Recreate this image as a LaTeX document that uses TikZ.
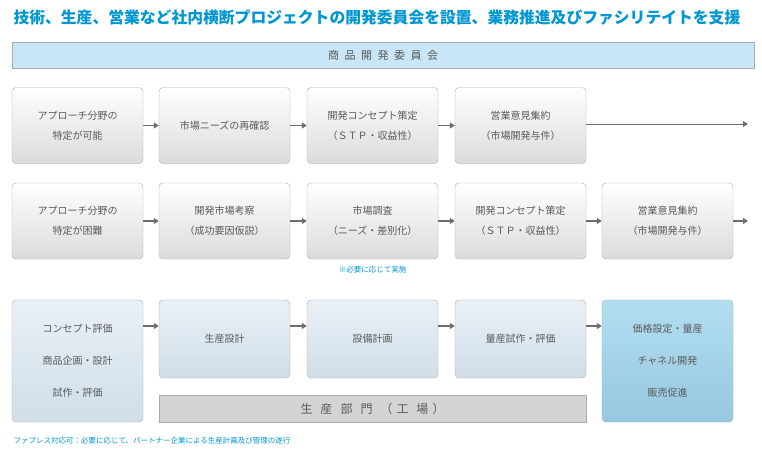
\documentclass[tikz,border=0pt]{standalone}
\usepackage{fontspec}
\setmainfont{Noto Sans CJK JP}
\usetikzlibrary{arrows.meta,positioning}
\definecolor{titleblue}{RGB}{0,150,210}
\definecolor{bannerblue}{RGB}{200,230,248}
\definecolor{selltop}{RGB}{178,222,240}
\definecolor{sellbottom}{RGB}{150,200,225}
\definecolor{prodtop}{RGB}{234,240,246}
\definecolor{prodbottom}{RGB}{208,222,232}
\definecolor{boxline}{RGB}{170,170,170}
\definecolor{txtgray}{RGB}{90,90,90}
\definecolor{arrowgray}{RGB}{110,110,110}
\begin{document}
\begin{tikzpicture}
[x=1pt, y=-1pt,
 every node/.style = {font=\fontsize{10}{20}\selectfont, text=txtgray, align=center},
 stepbox/.style = {draw=boxline, rounded corners=4pt, minimum width=131pt, minimum height=76pt,
                   top color=white, bottom color=black!14},
 prodbox/.style = {stepbox, top color=prodtop, bottom color=prodbottom},
 flow/.style = {-{Triangle[length=5pt,width=6pt]}, draw=arrowgray, line width=1.2pt}]
\useasboundingbox (0,0) rectangle (762,471);
\node[anchor=west, text=titleblue, font=\fontsize{15.8}{18}\selectfont\bfseries] (title) at (10,18)
  {技術、生産、営業など社内横断プロジェクトの開発委員会を設置、業務推進及びファシリテイトを支援};
\node[draw=boxline, fill=bannerblue, minimum width=742pt, minimum height=26pt, font=\fontsize{11}{13}\selectfont] (iinkai) at (383,55)
  {商\,\,\,品\,\,\,開\,\,\,発\,\,\,委\,\,\,員\,\,\,会};
% row 1
\node[stepbox] (a1) at (77.5,125.5) {アプローチ分野の\\特定が可能};
\node[stepbox] (a2) at (224.5,125.5) {市場ニーズの再確認};
\node[stepbox] (a3) at (372.5,125.5) {開発コンセプト策定\\（ＳＴＰ・収益性）};
\node[stepbox] (a4) at (520.5,125.5) {営業意見集約\\（市場開発与件）};
\coordinate (a5) at (748,124);
\draw[flow] (a1) -- (a2);
\draw[flow] (a2) -- (a3);
\draw[flow] (a3) -- (a4);
\draw[-{Triangle[length=5pt,width=6pt]}, draw=arrowgray, line width=0.8pt] (a4.east |- a5) -- (a5);
% row 2
\node[stepbox] (b1) at (77.5,221) {アプローチ分野の\\特定が困難};
\node[stepbox] (b2) at (224.5,221) {開発市場考察\\（成功要因仮説）};
\node[stepbox] (b3) at (372.5,221) {市場調査\\（ニーズ・差別化）};
\node[stepbox] (b4) at (520.5,221) {開発コンセプト策定\\（ＳＴＰ・収益性）};
\node[stepbox] (b5) at (667.5,221) {営業意見集約\\（市場開発与件）};
\coordinate (b6) at (748,221);
\node[text=titleblue, font=\fontsize{7.5}{9}\selectfont] (memo) at (372.5,270) {※必要に応じて実施};
\draw[flow] (b1) -- (b2);
\draw[flow] (b2) -- (b3);
\draw[flow] (b3) -- (b4);
\draw[flow] (b4) -- (b5);
\draw[flow] (b5) -- (b6);
% row 3
\node[prodbox, minimum height=122pt, font=\fontsize{10}{32}\selectfont] (c1) at (77.5,361) {コンセプト評価\\商品企画・設計\\試作・評価};
\node[prodbox, minimum height=78pt] (c2) at (224.5,339) {生産設計};
\node[prodbox, minimum height=78pt] (c3) at (372.5,339) {設備計画};
\node[prodbox, minimum height=78pt] (c4) at (520.5,339) {量産試作・評価};
\node[stepbox, minimum height=122pt, top color=selltop, bottom color=sellbottom, font=\fontsize{10}{32}\selectfont] (c5) at (667.5,361) {価格設定・量産\\チャネル開発\\販売促進};
\node[draw=boxline, fill=black!17, minimum width=427pt, minimum height=27pt, font=\fontsize{12}{14}\selectfont] (kojo) at (372.5,408.5)
  {生\,\,\,\,産\,\,\,\,部\,\,\,\,門\,\,\,\,（\,\,工\,\,\,\,場\,\,）};
\coordinate (c0) at (0,326);
\draw[flow] (c1.east |- c0) -- (c2.west |- c0);
\draw[flow] (c2.east |- c0) -- (c3.west |- c0);
\draw[flow] (c3.east |- c0) -- (c4.west |- c0);
\draw[flow] (c4.east |- c0) -- (c5.west |- c0);
\node[anchor=west, text=titleblue, font=\fontsize{7.5}{9}\selectfont] (note) at (10,441)
  {ファブレス対応可：必要に応じて、パートナー企業による生産計画及び管理の遂行};
\end{tikzpicture}
\end{document}
